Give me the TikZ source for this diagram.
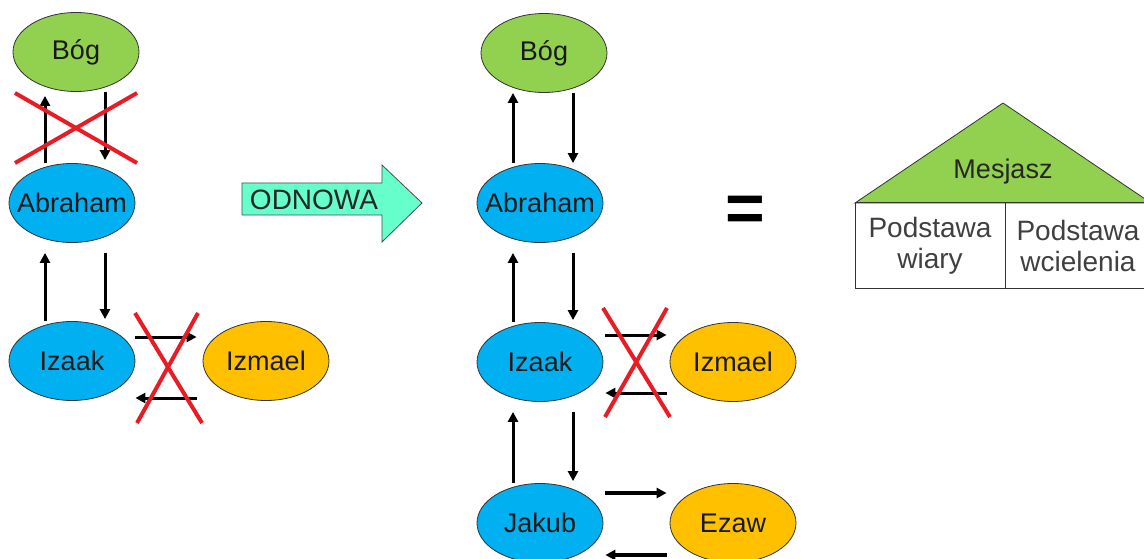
\documentclass[tikz,border=0pt]{standalone}
\usepackage{fontspec}
\setmainfont{Liberation Sans}
\usetikzlibrary{arrows.meta,shapes.geometric}

\definecolor{boggreen}{RGB}{146,208,80}
\definecolor{cyanblue}{RGB}{0,176,240}
\definecolor{amber}{RGB}{255,192,0}
\definecolor{aqua}{RGB}{102,255,204}
\definecolor{crossred}{RGB}{232,28,36}

\begin{document}
\begin{tikzpicture}[
    x=1pt, y=-1pt,
    person/.style={ellipse, draw=black!80, line width=0.8pt, minimum width=126pt, minimum height=79pt,
      inner sep=0pt, inner xsep=-18pt, font=\fontsize{27}{32}\selectfont, text=black!90},
    god/.style={person, fill=boggreen},
    chosen/.style={person, fill=cyanblue},
    other/.style={person, fill=amber},
    arrow/.style={-{Triangle[length=10pt,width=10pt]}, line width=3pt},
    thick arrow/.style={arrow, line width=4.5pt},
    cross/.style={crossred, line width=4pt},
    cell/.style={rectangle, draw=black!80, line width=1pt, minimum height=85pt, align=center,
      text=black!75, font=\fontsize{28}{31}\selectfont}
  ]
    \useasboundingbox (0,0) rectangle (1144,559);

    % Before
    \node[god] (bog1) at (76,52) {Bóg};
    \node[chosen] (abr1) at (72,203) {Abraham};
    \node[chosen] (iza1) at (72,361) {Izaak};
    \node[other] (izm1) at (266,361) {Izmael};

    \draw[arrow] ([xshift=-27pt]abr1.north) -- ([xshift=-27pt,yshift=-4pt]abr1.north |- bog1.south);
    \draw[arrow] ([xshift=33pt]abr1.north |- bog1.south) -- ([xshift=33pt,yshift=3pt]abr1.north);
    \draw[arrow] ([xshift=-27pt]iza1.north) -- ([xshift=-27pt,yshift=-10pt]iza1.north |- abr1.south);
    \draw[arrow] ([xshift=33pt,yshift=-10pt]iza1.north |- abr1.south) -- ([xshift=33pt,yshift=2pt]iza1.north);
    \draw[arrow] ([yshift=24pt]iza1.east) -- ([yshift=24pt,xshift=-6pt]iza1.east -| izm1.west);
    \draw[arrow] ([yshift=-37pt,xshift=-6pt]iza1.east -| izm1.west) -- ([yshift=-37pt]iza1.east);

    \draw[cross] (15,93) -- (137,163);
    \draw[cross] (15,163) -- (137,93);
    \draw[cross] (135,313) -- (202,423);
    \draw[cross] (198,313) -- (137,423);

    % Renewal
    \draw[fill=aqua, draw=black!70, line width=0.8pt]
      (242,183) -- (382,183) -- (382,165) -- (422,203) -- (382,242) -- (382,215) -- (242,215) -- cycle;
    \node[font=\fontsize{28}{32}\selectfont, text=black!85] (odnowa) at (314,200) {ODNOWA};

    % After
    \node[god] (bog2) at (544,53) {Bóg};
    \node[chosen] (abr2) at (540,203) {Abraham};
    \node[chosen] (iza2) at (540,362) {Izaak};
    \node[other] (izm2) at (733,362) {Izmael};
    \node[chosen] (jak2) at (540,523) {Jakub};
    \node[other] (eza2) at (733,523) {Ezaw};

    \draw[arrow] ([xshift=-27pt]abr2.north) -- ([xshift=-27pt]abr2.north |- bog2.south);
    \draw[arrow] ([xshift=33pt]abr2.north |- bog2.south) -- ([xshift=33pt]abr2.north);
    \draw[arrow] ([xshift=-27pt]iza2.north) -- ([xshift=-27pt,yshift=-10pt]iza2.north |- abr2.south);
    \draw[arrow] ([xshift=33pt,yshift=-10pt]iza2.north |- abr2.south) -- ([xshift=33pt,yshift=2pt]iza2.north);
    \draw[arrow] ([xshift=-27pt]jak2.north) -- ([xshift=-27pt,yshift=-10pt]jak2.north |- iza2.south);
    \draw[arrow] ([xshift=33pt,yshift=-10pt]jak2.north |- iza2.south) -- ([xshift=33pt,yshift=2pt]jak2.north);
    \draw[arrow] ([yshift=27pt,xshift=2pt]iza2.east) -- ([yshift=27pt,xshift=-3pt]iza2.east -| izm2.west);
    \draw[arrow] ([yshift=-31pt,xshift=-3pt]iza2.east -| izm2.west) -- ([yshift=-31pt,xshift=2pt]iza2.east);
    \draw[thick arrow] ([yshift=30pt,xshift=2pt]jak2.east) -- ([yshift=30pt,xshift=-3pt]jak2.east -| eza2.west);
    \draw[thick arrow] ([yshift=-32pt,xshift=-3pt]jak2.east -| eza2.west) -- ([yshift=-32pt,xshift=2pt]jak2.east);

    \draw[cross] (603,308) -- (670,417);
    \draw[cross] (667,308) -- (605,417);

    \node[font=\bfseries\fontsize{68}{76}\selectfont] (equals) at (745,214) {=};

    % Messiah
    \draw[fill=boggreen, draw=black!80, line width=0.8pt] (855,203) -- (1003,103) -- (1151,203) -- cycle;
    \node[font=\fontsize{27}{31}\selectfont, text=black!85] (mesjasz) at (1003,172) {Mesjasz};
    \node[cell, minimum width=150pt] (wiara) at (930,245.5) {Podstawa\\wiary};
    \node[cell, minimum width=146pt] (wcielenie) at (1078,245.5) {Podstawa\\wcielenia};
  \end{tikzpicture}
\end{document}
